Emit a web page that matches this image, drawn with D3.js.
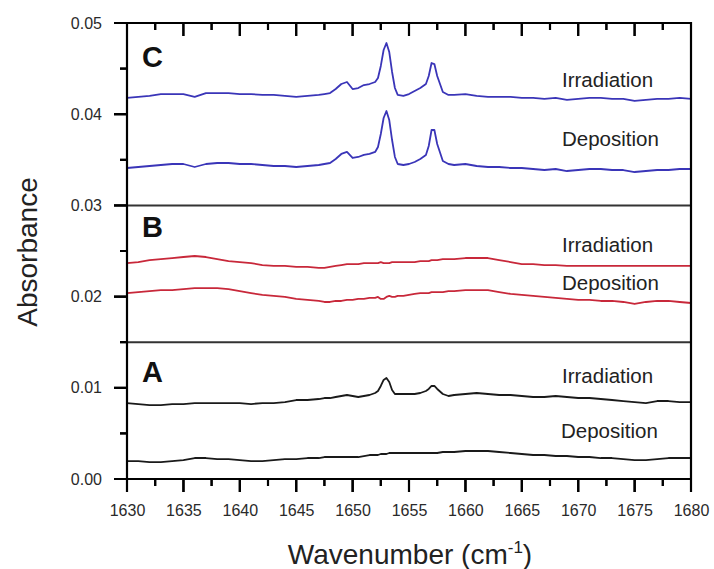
<!DOCTYPE html>
<html>
<head>
<meta charset="utf-8">
<script src="https://cdn.jsdelivr.net/npm/d3@7/dist/d3.min.js"></script>
</head>
<body style="margin:0">
<svg id="chart" width="714" height="569" font-family="Liberation Sans, Arial, sans-serif"></svg>
<script>
// ---------------- DATA ----------------
const wavenumber = [
  1630,1631,1632,1633,1634,1635,1636,1637,1638,1639,1640,1641,1642,1643,1644,1645,1646,1647,
  1647.5,1648,1648.5,1649,1649.5,1650,1650.5,1651,1651.5,1652,
  1652.25,1652.5,1652.75,1653,1653.25,1653.5,1653.75,1654,
  1654.5,1655,1655.5,1656,1656.5,
  1656.75,1657,1657.25,1657.5,
  1658,1658.5,1659,
  1660,1661,1662,1663,1664,1665,1666,1667,1668,1669,1670,1671,1672,1673,1674,1675,1676,1677,1678,1679,1680
];

// Panel C (blue)
const cIrradiation = [
  0.04178,0.04189,0.04200,0.04221,0.04221,0.04221,0.04189,0.04232,0.04232,0.04232,0.04221,0.04221,0.04211,0.04211,0.04200,0.04189,0.04200,0.04211,
  0.04221,0.04232,0.04276,0.04331,0.04353,0.04276,0.04287,0.04320,0.04331,0.04353,
  0.04397,0.04529,0.04704,0.04781,0.04682,0.04463,0.04287,0.04211,
  0.04200,0.04221,0.04254,0.04287,0.04331,
  0.04419,0.04561,0.04550,0.04419,
  0.04243,0.04211,0.04211,
  0.04221,0.04200,0.04189,0.04189,0.04189,0.04178,0.04178,0.04167,0.04178,0.04156,0.04167,0.04178,0.04178,0.04167,0.04167,0.04145,0.04156,0.04167,0.04167,0.04178,0.04167
];
const cDeposition = [
  0.03410,0.03421,0.03432,0.03443,0.03454,0.03454,0.03421,0.03454,0.03465,0.03465,0.03454,0.03454,0.03443,0.03432,0.03432,0.03421,0.03432,0.03443,
  0.03454,0.03465,0.03509,0.03564,0.03586,0.03520,0.03531,0.03553,0.03564,0.03586,
  0.03640,0.03783,0.03958,0.04035,0.03936,0.03717,0.03531,0.03454,
  0.03443,0.03454,0.03476,0.03509,0.03553,
  0.03651,0.03827,0.03827,0.03673,
  0.03487,0.03454,0.03443,
  0.03454,0.03432,0.03421,0.03421,0.03410,0.03410,0.03399,0.03388,0.03399,0.03377,0.03388,0.03399,0.03399,0.03388,0.03388,0.03366,0.03377,0.03388,0.03388,0.03399,0.03399
];

// Panel B (red)
const bIrradiation = [
  0.02368,0.02379,0.02401,0.02412,0.02423,0.02434,0.02445,0.02434,0.02412,0.02390,0.02379,0.02368,0.02346,0.02336,0.02336,0.02325,0.02325,0.02314,
  0.02314,0.02325,0.02336,0.02346,0.02357,0.02357,0.02357,0.02368,0.02368,0.02368,
  0.02368,0.02379,0.02368,0.02368,0.02368,0.02379,0.02379,0.02379,
  0.02379,0.02379,0.02379,0.02390,0.02390,
  0.02390,0.02401,0.02401,0.02401,
  0.02412,0.02412,0.02412,
  0.02423,0.02423,0.02423,0.02401,0.02379,0.02357,0.02357,0.02346,0.02346,0.02336,0.02336,0.02336,0.02336,0.02336,0.02336,0.02336,0.02336,0.02336,0.02336,0.02336,0.02336
];
const bDeposition = [
  0.02039,0.02050,0.02061,0.02072,0.02072,0.02083,0.02094,0.02094,0.02094,0.02083,0.02061,0.02039,0.02018,0.02007,0.01996,0.01974,0.01963,0.01952,
  0.01941,0.01941,0.01952,0.01952,0.01963,0.01963,0.01974,0.01974,0.01985,0.01985,
  0.01996,0.01974,0.01974,0.01996,0.02007,0.01996,0.01996,0.02007,
  0.02007,0.02018,0.02029,0.02039,0.02039,
  0.02039,0.02050,0.02050,0.02050,
  0.02050,0.02061,0.02061,
  0.02072,0.02072,0.02072,0.02050,0.02029,0.02018,0.02007,0.01996,0.01985,0.01974,0.01963,0.01963,0.01952,0.01952,0.01941,0.01919,0.01941,0.01952,0.01952,0.01941,0.01930
];

// Panel A (black)
const aIrradiation = [
  0.00833,0.00822,0.00811,0.00811,0.00822,0.00822,0.00833,0.00833,0.00833,0.00833,0.00833,0.00822,0.00833,0.00833,0.00844,0.00866,0.00866,0.00877,
  0.00888,0.00888,0.00899,0.00910,0.00921,0.00910,0.00899,0.00910,0.00921,0.00943,
  0.00965,0.01020,0.01086,0.01107,0.01064,0.00976,0.00932,0.00932,
  0.00932,0.00932,0.00932,0.00943,0.00965,
  0.00987,0.01020,0.01020,0.00987,
  0.00932,0.00910,0.00921,
  0.00932,0.00943,0.00932,0.00921,0.00921,0.00910,0.00899,0.00899,0.00910,0.00899,0.00888,0.00888,0.00877,0.00866,0.00855,0.00844,0.00833,0.00855,0.00855,0.00844,0.00844
];
const aDeposition = [
  0.00197,0.00197,0.00186,0.00186,0.00197,0.00208,0.00230,0.00230,0.00219,0.00219,0.00208,0.00197,0.00197,0.00208,0.00219,0.00219,0.00230,0.00230,
  0.00241,0.00241,0.00241,0.00241,0.00241,0.00241,0.00241,0.00252,0.00263,0.00263,
  0.00263,0.00274,0.00274,0.00274,0.00285,0.00285,0.00285,0.00285,
  0.00285,0.00285,0.00285,0.00285,0.00285,
  0.00285,0.00285,0.00285,0.00285,
  0.00296,0.00296,0.00296,
  0.00307,0.00307,0.00307,0.00296,0.00285,0.00274,0.00263,0.00263,0.00252,0.00252,0.00241,0.00241,0.00230,0.00230,0.00219,0.00208,0.00208,0.00219,0.00230,0.00230,0.00230
];

const seriesNames = ["C Irradiation","C Deposition","B Irradiation","B Deposition","A Irradiation","A Deposition"];
const panelLetters = ["C","B","A"];
const panelBounds = [0.015, 0.03];

const xTicks = [1630,1635,1640,1645,1650,1655,1660,1665,1670,1675,1680];
const xTickLabels = ["1630","1635","1640","1645","1650","1655","1660","1665","1670","1675","1680"];
const xMinorTicks = [1632.5,1637.5,1642.5,1647.5,1652.5,1657.5,1662.5,1667.5,1672.5,1677.5];
const yTicks = [0, 0.01, 0.02, 0.03, 0.04, 0.05];
const yTickLabels = ["0.00","0.01","0.02","0.03","0.04","0.05"];
const yMinorTicks = [0.005, 0.015, 0.025, 0.035, 0.045];

const xTitle = "Wavenumber (cm";
const xTitleSup = "-1";
const yTitle = "Absorbance";

// ---------------- DRAW ----------------
const svg = d3.select("#chart");
const pLeft = 127, pRight = 691, pTop = 23, pBottom = 479;

const xScale = d3.scaleLinear().domain([1630, 1680]).range([pLeft, pRight]);
const yScale = d3.scaleLinear().domain([0, 0.05]).range([pBottom, pTop]);

const series = [
  { name: seriesNames[0], values: cIrradiation, color: "#3a35b8", label: "Irradiation", lx: 562, ly: 87 },
  { name: seriesNames[1], values: cDeposition,  color: "#3a35b8", label: "Deposition",  lx: 562, ly: 146 },
  { name: seriesNames[2], values: bIrradiation, color: "#c8283a", label: "Irradiation", lx: 562, ly: 252 },
  { name: seriesNames[3], values: bDeposition,  color: "#c8283a", label: "Deposition",  lx: 562, ly: 290 },
  { name: seriesNames[4], values: aIrradiation, color: "#1a1a1a", label: "Irradiation", lx: 562, ly: 383 },
  { name: seriesNames[5], values: aDeposition,  color: "#1a1a1a", label: "Deposition",  lx: 561, ly: 438 }
];

const lineGen = d3.line()
  .x((d, i) => xScale(wavenumber[i]))
  .y(d => yScale(d));

// d3 axes: tick labels (and d3's own tick lines)
function axisGroup(transform, axis) {
  const g = svg.append("g")
    .attr("transform", transform)
    .call(axis);
  g.attr("font-size", 16)
   .attr("font-family", "Liberation Sans, Arial, sans-serif");
  g.selectAll(".tick text").attr("fill", "#2a2a2a");
  return g;
}
axisGroup(`translate(${pLeft},0)`,
  d3.axisLeft(yScale).tickValues(yTicks).tickSize(13).tickSizeOuter(0).tickPadding(12)
    .tickFormat((d, i) => yTickLabels[i]));
axisGroup(`translate(0,${pBottom})`,
  d3.axisBottom(xScale).tickValues(xTicks).tickSize(13).tickSizeOuter(0).tickPadding(13)
    .tickFormat((d, i) => xTickLabels[i]));

// data lines
svg.append("g").selectAll("path").data(series).join("path")
  .attr("d", s => lineGen(s.values))
  .attr("fill", "none")
  .attr("stroke", s => s.color)
  .attr("stroke-width", 1.8)
  .attr("stroke-linejoin", "round");

// series labels
svg.append("g").selectAll("text").data(series).join("text")
  .attr("x", s => s.lx).attr("y", s => s.ly)
  .attr("font-size", 20.5)
  .attr("fill", "#222")
  .text(s => s.label);

// panel letters
const letterPos = [67, 237, 382];
svg.append("g").selectAll("text").data(panelLetters).join("text")
  .attr("x", 142).attr("y", (d, i) => letterPos[i])
  .attr("font-size", 29).attr("font-weight", "bold").attr("fill", "#111")
  .text(d => d);

// panel separators
svg.append("g").selectAll("path").data(panelBounds).join("path")
  .attr("d", d => `M${pLeft},${yScale(d)}H${pRight}`)
  .attr("stroke", "#333").attr("stroke-width", 2);

// frame + all tick marks as ONE path, built from the scales
function yTickPath(vals, len) {
  return vals.map(v => `M${pLeft - len},${yScale(v)}H${pLeft}`).join("");
}
function xTickPath(vals, y0, len) {
  return vals.map(v => `M${xScale(v)},${y0}V${y0 + len}`).join("");
}
const frameD =
  `M${pLeft},${pTop}H${pRight}V${pBottom}H${pLeft}Z` +
  yTickPath(yTicks, 13) +
  yTickPath(yMinorTicks, 7) +
  xTickPath(xTicks, pBottom, 13) +
  xTickPath(xMinorTicks, pBottom, 7) +
  xTickPath(xTicks, pTop, 13) +
  xTickPath(xMinorTicks, pTop, 7);
svg.append("path")
  .attr("d", frameD)
  .attr("fill", "none")
  .attr("stroke", "black")
  .attr("stroke-width", 2.2);

// extra: tick marks as individual lines drawn last
const tickSpecs = []
  .concat(yTicks.map(v => ({ x1: pLeft - 13, x2: pLeft, y1: yScale(v), y2: yScale(v) })))
  .concat(yMinorTicks.map(v => ({ x1: pLeft - 7, x2: pLeft, y1: yScale(v), y2: yScale(v) })))
  .concat(xTicks.map(v => ({ x1: xScale(v), x2: xScale(v), y1: pBottom, y2: pBottom + 13 })))
  .concat(xMinorTicks.map(v => ({ x1: xScale(v), x2: xScale(v), y1: pBottom, y2: pBottom + 7 })))
  .concat(xTicks.map(v => ({ x1: xScale(v), x2: xScale(v), y1: pTop, y2: pTop + 13 })))
  .concat(xMinorTicks.map(v => ({ x1: xScale(v), x2: xScale(v), y1: pTop, y2: pTop + 7 })));
svg.append("g").selectAll("line").data(tickSpecs).join("line")
  .attr("x1", d => d.x1).attr("x2", d => d.x2)
  .attr("y1", d => d.y1).attr("y2", d => d.y2)
  .style("stroke", "black")
  .style("stroke-width", "2px");

// axis titles
const xt = svg.append("text")
  .attr("x", 410).attr("y", 564)
  .attr("text-anchor", "middle")
  .attr("font-size", 28).attr("fill", "#222");
xt.append("tspan").text(xTitle);
xt.append("tspan").attr("font-size", 17).attr("dy", -11).text(xTitleSup);
xt.append("tspan").attr("dy", 11).text(")");

svg.append("text")
  .attr("transform", "translate(37,252) rotate(-90)")
  .attr("text-anchor", "middle")
  .attr("font-size", 28).attr("fill", "#222")
  .text(yTitle);
</script>
</body>
</html>
